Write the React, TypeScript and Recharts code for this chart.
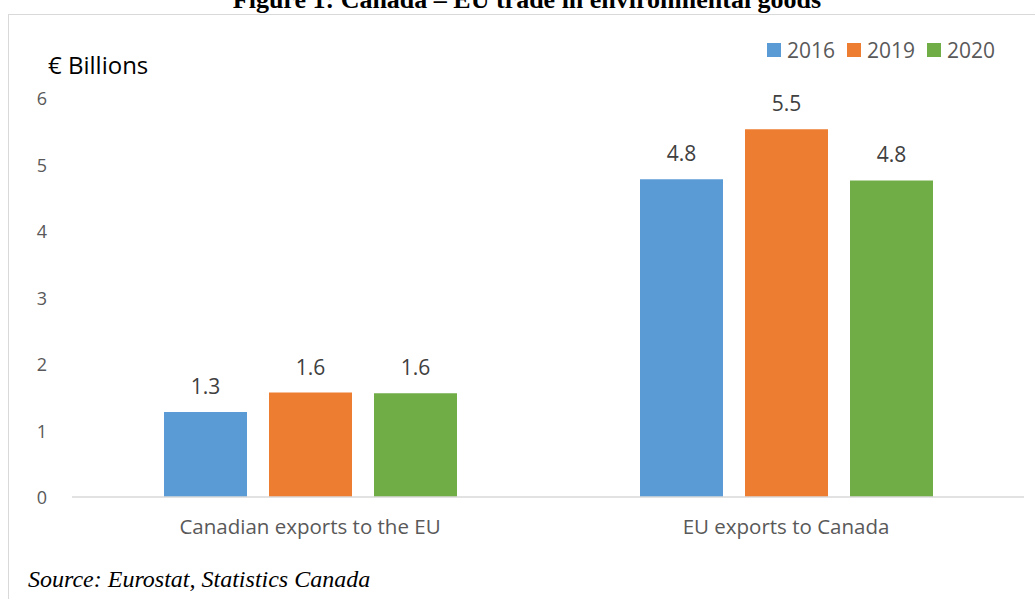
import { BarChart, Bar, XAxis, YAxis, LabelList } from 'recharts'

const categories = ['Canadian exports to the EU', 'EU exports to Canada']
const years = ['2016', '2019', '2020']
const values2016 = [1.28, 4.78]
const values2019 = [1.57, 5.53]
const values2020 = [1.56, 4.76]
const yTicks = [0, 1, 2, 3, 4, 5, 6]
const colors = ['#5B9BD5', '#ED7D31', '#70AD47']

const data = categories.map((name, i) => ({
  name,
  y2016: values2016[i],
  y2019: values2019[i],
  y2020: values2020[i],
}))

const FONT = '"Open Sans", sans-serif'
const SERIF = '"Liberation Serif", serif'

function YTick({ y, payload }: { y?: number; payload?: { value: number } }) {
  return (
    <text x={42} y={y} dy={7} textAnchor="middle" fontSize={18} fill="#595959" fontFamily={FONT}>
      {payload?.value}
    </text>
  )
}

export default function App() {
  return (
    <div style={{ position: 'absolute', left: 0, top: 0, width: 1035, height: 599, background: '#fff', overflow: 'hidden' }}>
      <div
        style={{
          position: 'absolute',
          top: -13,
          left: 0,
          width: 1054,
          textAlign: 'center',
          fontFamily: SERIF,
          fontWeight: 'bold',
          fontSize: 26,
          lineHeight: '26px',
        }}
      >
        Figure 1: Canada – EU trade in environmental goods
      </div>
      <div style={{ position: 'absolute', left: 8, top: 14, width: 1040, height: 600, border: '1.5px solid #d9d9d9' }} />
      <div style={{ position: 'absolute', left: 48, top: 48, fontFamily: FONT, fontSize: 24, color: '#000' }}>€ Billions</div>
      {years.map((yr, i) => (
        <div
          key={yr}
          style={{
            position: 'absolute',
            left: 767 + i * 80,
            top: 36,
            height: 28,
            display: 'flex',
            alignItems: 'center',
            fontFamily: FONT,
            fontSize: 21,
            color: '#595959',
          }}
        >
          <span style={{ width: 14, height: 14, background: colors[i], marginRight: 6, display: 'inline-block' }} />
          {yr}
        </div>
      ))}
      <div
        style={{
          position: 'absolute',
          left: 28,
          top: 567,
          fontFamily: SERIF,
          fontStyle: 'italic',
          fontSize: 24,
          lineHeight: '24px',
        }}
      >
        Source: Eurostat, Statistics Canada
      </div>
      <BarChart
        width={1035}
        height={599}
        data={data}
        margin={{ top: 98, right: 11, bottom: 0, left: 0 }}
        barSize={83}
        barGap={22}
        style={{ position: 'absolute', left: 0, top: 0 }}
      >
        <XAxis
          dataKey="name"
          height={102}
          axisLine={{ stroke: '#d9d9d9', strokeWidth: 1.5 }}
          tickLine={false}
          tickSize={0}
          tickMargin={22}
          tick={{ fontSize: 20.5, fill: '#595959', fontFamily: FONT }}
        />
        <YAxis
          width={72}
          domain={[0, 6]}
          ticks={yTicks}
          axisLine={false}
          tickLine={false}
          tick={<YTick />}
        />
        {['y2016', 'y2019', 'y2020'].map((key, i) => (
          <Bar key={key} dataKey={key} fill={colors[i]} isAnimationActive={false}>
            <LabelList
              dataKey={key}
              position="top"
              offset={18}
              fontSize={21}
              fill="#404040"
              fontFamily={FONT}
              formatter={(v: number) => v.toFixed(1)}
            />
          </Bar>
        ))}
      </BarChart>
    </div>
  )
}
